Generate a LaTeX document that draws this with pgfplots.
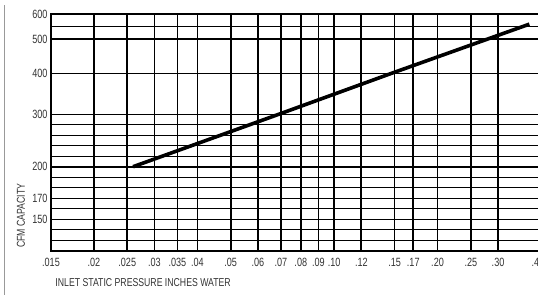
\documentclass[border=0pt]{standalone}
\usepackage{fontspec}
\setmainfont{Liberation Sans}[FakeStretch=0.76]
\usepackage{pgfplots}
\pgfplotsset{compat=1.18}
\begin{document}
\begin{tikzpicture}
\draw[black!40, line width=1.6bp] (4.5bp,0bp) -- (4.5bp,290bp);
\begin{axis}[
  at={(51bp,44.3bp)}, anchor=south west,
  scale only axis, width=490bp, height=236.4bp,
  xmode=log, xmin=0.015, xmax=0.40,
  ymin=120, ymax=600,
  y coord trafo/.code={\pgfmathparse{#1<200 ? (#1-120)*1.05 : (#1<300 ? 84+(#1-200)*0.524 : (#1<400 ? 136.4+(#1-300)*0.41 : (#1<500 ? 177.4+(#1-400)*0.343 : 211.7+(#1-500)*0.247)))}},
  xtick={0.015,0.02,0.025,0.03,0.035,0.04,0.05,0.06,0.07,0.08,0.09,0.10,0.12,0.15,0.17,0.20,0.25,0.30,0.40},
  xticklabels={.015,.02,.025,.03,.035,.04,.05,.06,.07,.08,.09,.10,.12,.15,.17,.20,.25,.30,\kern-6bp.40},
  ytick={150,170,300,400,500,600},
  yticklabels={150,170,300,400,500,600},
  extra y ticks={200},
  extra y tick labels={200},
  extra y tick style={major grid style={black, line width=2bp}},
  minor ytick={130,140,160,180,190,220,240,260,280,550},
  xmajorgrids=true, ymajorgrids=true, yminorgrids=true, xminorgrids=false,
  every axis x grid/.style={black, line width=1.7bp},
  major grid style={black, line width=1.3bp},
  minor grid style={black, line width=1.1bp},
  major tick length=0pt, minor tick length=0pt,
  axis line style={black, line width=2bp},
  tick label style={font=\fontsize{12}{13}\selectfont, text=black!80},
  xticklabel style={yshift=-4bp},
  xlabel={INLET STATIC PRESSURE INCHES WATER},
  xlabel style={at={(axis description cs:0.002,-0.1366)}, anchor=west, font=\fontsize{11.5}{12}\selectfont, text=black!80},
  ylabel={CFM CAPACITY},
  ylabel style={at={(axis description cs:-0.0612,0.148)}, anchor=center, font=\fontsize{11.5}{12}\selectfont, text=black!80},
]
\addplot[black, line width=3.6bp] coordinates {(0.026,200) (0.069,300) (0.147,400) (0.28,500) (0.37,560)};
\end{axis}
\pgfresetboundingbox
\useasboundingbox (0bp,0bp) rectangle (538bp,295bp);
\end{tikzpicture}
\end{document}
